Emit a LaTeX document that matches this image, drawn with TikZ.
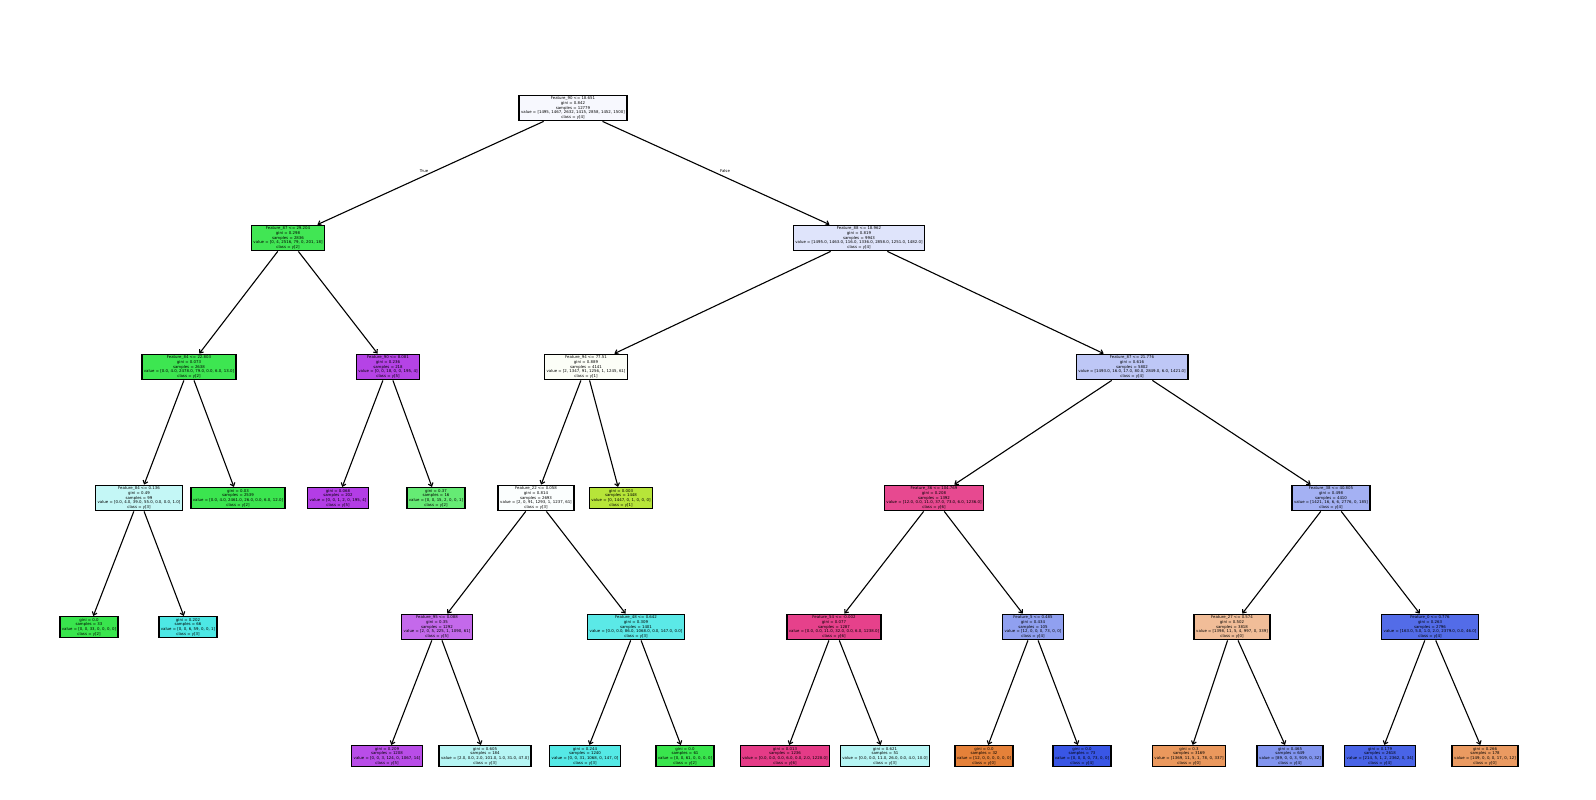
\documentclass[tikz,border=0pt]{standalone}
\usepackage{fontspec}
\setmainfont{DejaVu Sans}
\usetikzlibrary{arrows.meta}
\definecolor{c0}{RGB}{229,129,57}
\definecolor{c1}{RGB}{183,229,57}
\definecolor{c2}{RGB}{57,229,77}
\definecolor{c3}{RGB}{57,229,226}
\definecolor{c4}{RGB}{57,86,229}
\definecolor{c5}{RGB}{177,57,229}
\definecolor{c6}{RGB}{229,57,134}
\begin{document}
\begin{tikzpicture}[x=1pt,y=-1pt,
  tn/.style={draw=black, line width=1.5pt, rectangle, inner xsep=2pt, inner ysep=1.4pt, align=center, font=\fontsize{3.9pt}{4.7pt}\selectfont},
  ed/.style={line width=1.1pt, -{Straight Barb[length=3pt,width=5pt]}},
  lab/.style={font=\fontsize{3.9pt}{4.7pt}\selectfont, inner sep=0pt}]
\fill[white] (0,0) rectangle (1596,800);
\useasboundingbox (0,0) rectangle (1596,800);
% level 0
\node[tn, fill=c4!4] (r) at (573,108) {Feature\_90 <= 18.651\\gini = 0.842\\samples = 12779\\value = [1495, 1467, 2632, 1415, 2858, 1452, 1500]\\class = y[4]};
% level 1
\node[tn, fill=c2!96] (a) at (288,238) {Feature\_87 <= 29.204\\gini = 0.298\\samples = 2836\\value = [0, 4, 2516, 79, 0, 201, 18]\\class = y[2]};
\node[tn, fill=c4!16] (b) at (859,238) {Feature\_88 <= 18.962\\gini = 0.819\\samples = 9943\\value = [1495.0, 1463.0, 116.0, 1336.0, 2858.0, 1251.0, 1482.0]\\class = y[4]};
% level 2
\node[tn, fill=c2!98] (aa) at (189,367) {Feature\_84 <= 22.803\\gini = 0.073\\samples = 2638\\value = [0.0, 4.0, 2478.0, 79.0, 0.0, 6.0, 13.0]\\class = y[2]};
\node[tn, fill=c5!95] (ab) at (388,367) {Feature\_90 <= 8.081\\gini = 0.236\\samples = 218\\value = [0, 0, 18, 0, 0, 195, 4]\\class = y[5]};
\node[tn, fill=c1!4] (ba) at (586,367) {Feature\_94 <= 77.51\\gini = 0.889\\samples = 4141\\value = [2, 1347, 91, 1256, 1, 1245, 61]\\class = y[1]};
\node[tn, fill=c4!33] (bb) at (1132,367) {Feature\_87 <= 21.776\\gini = 0.616\\samples = 5802\\value = [1493.0, 16.0, 17.0, 80.0, 2849.0, 6.0, 1421.0]\\class = y[4]};
% level 3
\node[tn, fill=c3!30] (aaa) at (139,498) {Feature\_84 <= 0.136\\gini = 0.49\\samples = 99\\value = [0.0, 4.0, 39.0, 55.0, 0.0, 0.0, 1.0]\\class = y[3]};
\node[tn, fill=c2!99] (aab) at (238,498) {gini = 0.03\\samples = 2539\\value = [0.0, 4.0, 2461.0, 26.0, 0.0, 6.0, 12.0]\\class = y[2]};
\node[tn, fill=c5!98] (aba) at (338,498) {gini = 0.068\\samples = 202\\value = [0, 0, 1, 2, 0, 195, 4]\\class = y[5]};
\node[tn, fill=c2!78] (abb) at (436,498) {gini = 0.37\\samples = 16\\value = [0, 0, 15, 2, 0, 0, 1]\\class = y[2]};
\node[tn, fill=c3!2] (baa) at (536,498) {Feature\_22 <= 0.058\\gini = 0.814\\samples = 2693\\value = [2, 0, 91, 1293, 1, 1237, 61]\\class = y[3]};
\node[tn, fill=c1] (bab) at (621,498) {gini = 0.003\\samples = 1448\\value = [0, 1447, 0, 1, 0, 0, 0]\\class = y[1]};
\node[tn, fill=c6!92] (bba) at (934,498) {Feature\_36 <= 104.769\\gini = 0.208\\samples = 1392\\value = [12.0, 0.0, 11.0, 37.0, 73.0, 6.0, 1236.0]\\class = y[6]};
\node[tn, fill=c4!46] (bbb) at (1331,498) {Feature\_38 <= 40.805\\gini = 0.498\\samples = 4410\\value = [1421, 16, 6, 6, 2776, 0, 185]\\class = y[4]};
% level 4
\node[tn, fill=c2] (aaaa) at (89,627) {gini = 0.0\\samples = 33\\value = [0, 0, 33, 0, 0, 0, 0]\\class = y[2]};
\node[tn, fill=c3!90] (aaab) at (188,627) {gini = 0.202\\samples = 66\\value = [0, 0, 6, 59, 0, 0, 1]\\class = y[3]};
\node[tn, fill=c5!76] (baaa) at (437,627) {Feature\_95 <= 0.088\\gini = 0.35\\samples = 1292\\value = [2, 0, 5, 225, 1, 1090, 61]\\class = y[5]};
\node[tn, fill=c3!83] (baab) at (636,627) {Feature\_48 <= 0.642\\gini = 0.309\\samples = 1401\\value = [0.0, 0.0, 86.0, 1068.0, 0.0, 147.0, 0.0]\\class = y[3]};
\node[tn, fill=c6!96] (bbaa) at (834,627) {Feature\_54 <= -0.002\\gini = 0.077\\samples = 1287\\value = [0.0, 0.0, 11.0, 32.0, 0.0, 6.0, 1238.0]\\class = y[6]};
\node[tn, fill=c4!56] (bbab) at (1033,627) {Feature\_5 <= 0.485\\gini = 0.434\\samples = 105\\value = [12, 0, 0, 0, 73, 0, 0]\\class = y[4]};
\node[tn, fill=c0!52] (bbba) at (1232,627) {Feature\_27 <= 0.574\\gini = 0.502\\samples = 3818\\value = [1398, 11, 5, 4, 997, 0, 339]\\class = y[0]};
\node[tn, fill=c4!87] (bbbb) at (1430,627) {Feature\_0 <= 0.776\\gini = 0.263\\samples = 2796\\value = [163.0, 5.0, 1.0, 2.0, 2379.0, 0.0, 46.0]\\class = y[4]};
% level 5
\node[tn, fill=c5!90] (l1) at (387,756) {gini = 0.209\\samples = 1208\\value = [0, 0, 3, 124, 0, 1067, 14]\\class = y[5]};
\node[tn, fill=c3!37] (l2) at (485,756) {gini = 0.605\\samples = 184\\value = [2.0, 0.0, 2.0, 101.0, 1.0, 31.0, 47.0]\\class = y[3]};
\node[tn, fill=c3!86] (l3) at (585,756) {gini = 0.244\\samples = 1240\\value = [0, 0, 31, 1068, 0, 147, 0]\\class = y[3]};
\node[tn, fill=c2] (l4) at (685,756) {gini = 0.0\\samples = 61\\value = [0, 0, 61, 0, 0, 0, 0]\\class = y[2]};
\node[tn, fill=c6!99] (l5) at (785,756) {gini = 0.013\\samples = 1236\\value = [0.0, 0.0, 0.0, 6.0, 0.0, 2.0, 1228.0]\\class = y[6]};
\node[tn, fill=c3!37] (l6) at (885,756) {gini = 0.621\\samples = 51\\value = [0.0, 0.0, 11.0, 26.0, 0.0, 4.0, 10.0]\\class = y[3]};
\node[tn, fill=c0] (l7) at (984,756) {gini = 0.0\\samples = 32\\value = [12, 0, 0, 0, 0, 0, 0]\\class = y[0]};
\node[tn, fill=c4] (l8) at (1082,756) {gini = 0.0\\samples = 73\\value = [0, 0, 0, 0, 73, 0, 0]\\class = y[4]};
\node[tn, fill=c0!82] (l9) at (1189,756) {gini = 0.3\\samples = 3169\\value = [1369, 11, 5, 1, 78, 0, 337]\\class = y[0]};
\node[tn, fill=c4!63] (l10) at (1290,756) {gini = 0.465\\samples = 649\\value = [89, 0, 0, 3, 919, 0, 32]\\class = y[4]};
\node[tn, fill=c4!92] (l11) at (1380,756) {gini = 0.179\\samples = 2618\\value = [214, 5, 1, 2, 2362, 0, 34]\\class = y[4]};
\node[tn, fill=c0!80] (l12) at (1485,756) {gini = 0.266\\samples = 178\\value = [149, 0, 0, 0, 17, 0, 12]\\class = y[0]};
% labels
\node[lab] (tl) at (424,171) {True};
\node[lab] (fl) at (725,171) {False};
% edges
\draw[ed] (r) -- (a);
\draw[ed] (r) -- (b);
\draw[ed] (a) -- (aa);
\draw[ed] (a) -- (ab);
\draw[ed] (b) -- (ba);
\draw[ed] (b) -- (bb);
\draw[ed] (aa) -- (aaa);
\draw[ed] (aa) -- (aab);
\draw[ed] (ab) -- (aba);
\draw[ed] (ab) -- (abb);
\draw[ed] (ba) -- (baa);
\draw[ed] (ba) -- (bab);
\draw[ed] (bb) -- (bba);
\draw[ed] (bb) -- (bbb);
\draw[ed] (aaa) -- (aaaa);
\draw[ed] (aaa) -- (aaab);
\draw[ed] (baa) -- (baaa);
\draw[ed] (baa) -- (baab);
\draw[ed] (bba) -- (bbaa);
\draw[ed] (bba) -- (bbab);
\draw[ed] (bbb) -- (bbba);
\draw[ed] (bbb) -- (bbbb);
\draw[ed] (baaa) -- (l1);
\draw[ed] (baaa) -- (l2);
\draw[ed] (baab) -- (l3);
\draw[ed] (baab) -- (l4);
\draw[ed] (bbaa) -- (l5);
\draw[ed] (bbaa) -- (l6);
\draw[ed] (bbab) -- (l7);
\draw[ed] (bbab) -- (l8);
\draw[ed] (bbba) -- (l9);
\draw[ed] (bbba) -- (l10);
\draw[ed] (bbbb) -- (l11);
\draw[ed] (bbbb) -- (l12);
\end{tikzpicture}
\end{document}
